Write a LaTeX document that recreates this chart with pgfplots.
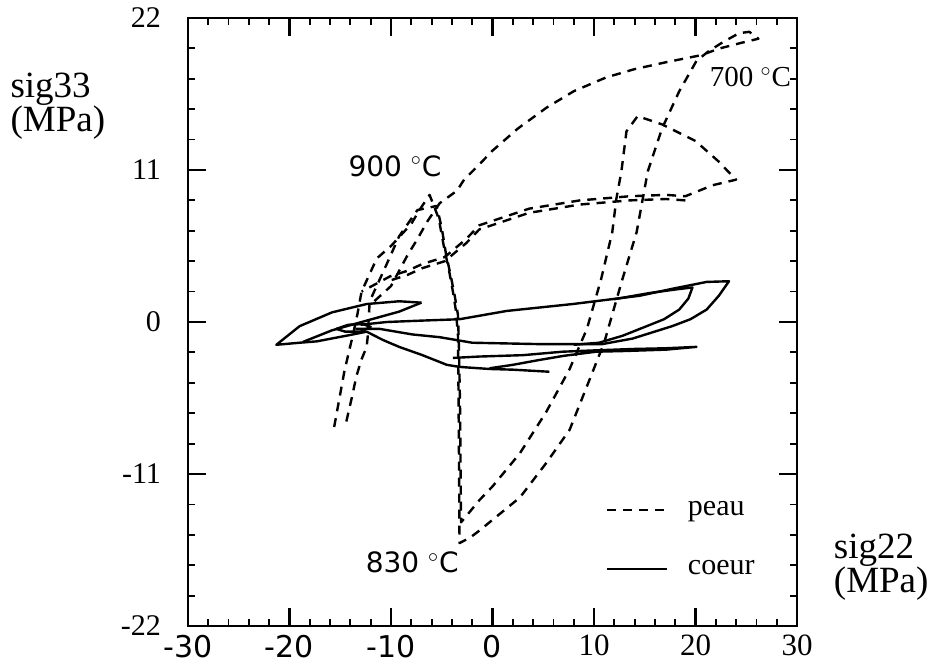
\documentclass[border=0pt]{standalone}
\usepackage{fontspec}
\setmainfont{Liberation Serif}
\setsansfont{DejaVu Sans}
\usepackage{pgfplots}
\pgfplotsset{compat=1.18}
\begin{document}
\begin{tikzpicture}[font=\fontsize{14}{16}\selectfont]
\useasboundingbox (0,0) rectangle (465pt,332pt);
\begin{axis}[
  at={(94pt,19pt)}, anchor=south west,
  scale only axis, width=304.5pt, height=304pt,
  xmin=-30, xmax=30, ymin=-22, ymax=22,
  clip=false,
  axis line style={line width=1.4pt},
  xtick={-30,-20,-10,0,10,20,30},
  xticklabels={{\sffamily -30},{\sffamily -20},{\sffamily -10},{\sffamily 0},{\fontsize{15.5}{17}\selectfont 10},{\fontsize{15.5}{17}\selectfont 20},{\fontsize{15.5}{17}\selectfont 30}},
  ytick={-22,-11,0,11,22},
  yticklabels={-22,-11,0,11,22},
  minor x tick num=4, minor y tick num=4,
  major tick length=9pt, minor tick length=3.5pt,
  every major tick/.append style={line width=1.1pt, black},
  every minor tick/.append style={line width=0.9pt, black},
  tick label style={font=\fontsize{15}{16}\selectfont},
  yticklabel style={xshift=-10pt},
  xticklabel style={yshift=-1pt},
  legend image code/.code={\draw[#1] (0pt,0pt) -- (30pt,0pt);},
  legend style={at={(rel axis cs:0.685,0.212)}, anchor=north west, draw=none, fill=none,
    font=\fontsize{15}{17}\selectfont, row sep=17pt, inner sep=0pt,
    /tikz/every odd column/.append style={column sep=8pt}},
  legend cell align=left,
]
\addplot[black, line width=1.2pt, dash pattern=on 4.5pt off 3.5pt, line join=round] coordinates {
(-14.4,-7.2) (-13.9,-5.6) (-13.4,-3.9) (-12.9,-2.7) (-12.4,-1.8) (-12.3,-1.1) (-12.2,0.2) (-12.1,1.5) (-10.6,3.9) (-9.2,6.2) (-7.4,8.1) (-5.5,8.4) (-5.0,6.8) (-4.6,5.0) (-4.1,3.3) (-3.7,1.8) (-3.4,0.5) (-3.3,-2) (-3.2,-6) (-3.15,-10) (-3.1,-14.5) (-2.2,-13.7) (-1.3,-12.9) (0,-11.9) (2.7,-9.5) (5.3,-6.5) (7.6,-3.4) (9.3,-0.5) (10.7,3.1) (11.8,6.5) (12.2,8.9) (12.7,10.9) (13.2,13.8) (14.3,14.9) (16.7,14.3) (20.0,13.1) (22.3,11.6) (23.2,10.9) (24.0,10.3) (21.7,9.9) (19.0,9.1) (17.1,9.2) (13.5,9.1) (8.6,8.8) (3.6,8.2) (-1.3,7.0) (-2.6,6.0) (-4.7,4.7) (-6.9,4.2) (-8.4,3.7) (-10.1,3.3) (-12.9,2.2)
};
\addlegendentry{peau}
\addplot[black, line width=1.2pt, line join=round] coordinates {
(-7.0,1.4) (-9.2,1.5) (-12.4,1.3) (-15.8,0.7) (-19.0,-0.3) (-21.3,-1.65) (-19.0,-1.5) (-17.3,-1.4) (-14.1,-0.95) (-12.4,-0.7) (-10.8,-1.3) (-9.2,-1.8) (-6.9,-2.4) (-4.5,-3.1) (-3.25,-3.25) (-0.3,-3.4) (2.0,-3.45) (5.6,-3.6)
};
\addlegendentry{coeur}
\addplot[black, line width=1.2pt, dash pattern=on 4.5pt off 3.5pt, line join=round, forget plot] coordinates {
(-15.6,-7.6) (-15.1,-5.6) (-14.6,-3.6) (-14.1,-2.0) (-13.8,-1.1) (-13.3,0.6) (-12.9,2.2) (-11.4,4.6) (-10.0,5.5) (-8.0,7.1) (-7.2,8.1) (-6.2,9.2) (-5.3,7.5) (-4.8,5.5) (-4.3,3.8) (-3.9,2.2) (-3.6,0.8) (-3.4,-1) (-3.35,-5) (-3.3,-10) (-3.25,-16.0) (-2.2,-15.6) (-1.3,-15.1) (0.7,-13.9) (2.7,-12.7) (5.3,-10.2) (7.6,-7.8) (9.6,-4.1) (11.0,-1.5) (12.8,3.1) (14.2,6.5) (15.3,10.9) (16.7,14.0) (18.4,16.7) (20.1,18.9) (21.3,19.6) (22.8,20.3) (24.3,20.9) (25.3,21.0) (26.2,20.5) (24.5,20.2) (22.4,19.8) (20.5,19.3) (17.1,18.8) (14.0,18.3) (11.2,17.7) (8.0,16.7) (5.3,15.5) (2.5,14.0) (0,12.4) (-1.3,11.4) (-2.8,10.3) (-3.5,9.5) (-5.2,8.6) (-6.4,7.3) (-7.4,6.0) (-8.4,4.8) (-10.0,2.6) (-12.1,1.2)
};
\addplot[black, line width=1.2pt, dash pattern=on 4.5pt off 3.5pt, line join=round, forget plot] coordinates {
(19.0,8.8) (17.1,8.9) (13.5,8.8) (8.6,8.5) (3.6,7.9) (-1.3,6.7) (-2.6,5.7) (-4.7,4.4) (-6.9,3.9) (-8.4,3.4) (-10.1,3.0)
};
\addplot[black, line width=1.2pt, line join=round, forget plot] coordinates {
(-18.7,-1.45) (-15.8,-0.6) (-12.4,0.1) (-9.2,0.75) (-7.0,1.4)
};
\addplot[black, line width=1.2pt, line join=round, forget plot] coordinates {
(-15.4,-0.5) (-14.2,-0.2) (-12.8,-0.15) (-12.0,-0.35) (-13.0,-0.7) (-14.5,-0.7) (-15.4,-0.5)
};
\addplot[black, line width=1.2pt, line join=round, forget plot] coordinates {
(-13.0,-0.2) (-10.4,0.0) (-7.0,0.1) (-3.25,0.2) (1.4,0.8) (7.9,1.3) (14.5,1.9) (17.7,2.4) (21.1,2.9) (23.3,2.95) (22.3,1.9) (21.1,0.9) (19.5,0.2) (17.7,-0.3) (13.8,-1.2) (10.8,-1.6) (4.6,-1.6) (-2.0,-1.5) (-5.2,-1.1) (-7.9,-0.9) (-11.1,-0.5) (-13.5,-0.5)
};
\addplot[black, line width=1.2pt, line join=round, forget plot] coordinates {
(12.0,1.65) (15.5,2.1) (18.0,2.35) (19.7,2.5) (19.3,1.7) (18.4,0.9) (16.9,0.2) (15.2,-0.3) (12.8,-1.0) (10.5,-1.5) (8.0,-1.65)
};
\addplot[black, line width=1.2pt, line join=round, forget plot] coordinates {
(-3.9,-2.6) (-1.3,-2.5) (3.0,-2.4) (6.9,-2.15) (10.2,-2.05) (14.0,-1.95) (17.1,-1.9) (20.1,-1.8) (17.1,-2.0) (13.0,-2.1) (10.2,-2.15) (7.0,-2.45) (4.6,-2.75) (2.0,-3.1) (-0.3,-3.35)
};
\node[font=\sffamily\fontsize{14}{16}\selectfont] at (axis cs:-9.6,11.3) {900 $^{\circ}$C};
\node[font=\fontsize{14.5}{16}\selectfont] at (axis cs:25.4,17.7) {700 $^{\circ}$C};
\node[font=\sffamily\fontsize{14}{16}\selectfont] at (axis cs:-7.9,-17.4) {830 $^{\circ}$C};
\node[anchor=west, align=left, inner sep=0pt, font=\fontsize{18.5}{17}\selectfont] at (rel axis cs:-0.292,0.855) {sig33\\(MPa)};
\node[anchor=west, align=left, inner sep=0pt, font=\fontsize{18.5}{17}\selectfont] at (rel axis cs:1.06,0.097) {sig22\\(MPa)};
\end{axis}
\end{tikzpicture}
\end{document}
